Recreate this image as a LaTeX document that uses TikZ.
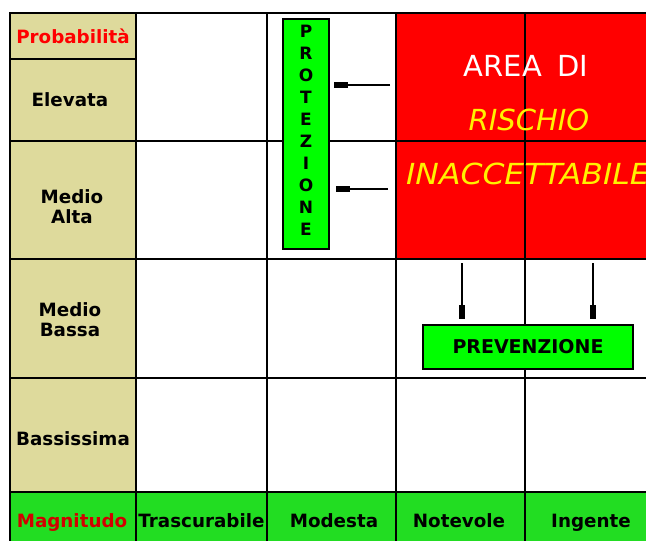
\documentclass[tikz,border=0pt]{standalone}
\usepackage{fontspec}
\usepackage{graphicx}
\setmainfont{DejaVu Sans}
\usetikzlibrary{arrows.meta}
\definecolor{khaki}{RGB}{222,218,156}
\definecolor{rowgreen}{RGB}{34,221,34}
\definecolor{boxgreen}{RGB}{0,255,0}
\definecolor{magred}{RGB}{210,0,0}
\begin{document}
\begin{tikzpicture}[x=1pt,y=-1pt,
  gridline/.style={line width=1.6pt,draw=black},
  lab/.style={font=\bfseries\fontsize{18.3}{20}\selectfont,align=center,inner sep=0pt},
  big/.style={font=\fontsize{29}{32}\selectfont,inner sep=0pt},
  gbox/.style={draw=black,line width=1.3pt,fill=boxgreen,inner sep=0pt},
  arr/.style={line width=1.4pt,-{Rectangle[length=14pt,width=6pt]}}]
\useasboundingbox (0,0) rectangle (646,541);
\fill[white] (0,0) rectangle (646,541);
% backgrounds
\fill[khaki] (10,13) rectangle (136,492);
\fill[red] (396,13) rectangle (646,259);
\fill[rowgreen] (10,492) rectangle (646,541);
% grid
\draw[gridline] (646,13) -- (10,13) -- (10,541);
\draw[gridline] (10,59) -- (136,59);
\foreach \y in {141,259,378,492} \draw[gridline] (10,\y) -- (646,\y);
\foreach \x in {136,267,396,525} \draw[gridline] (\x,13) -- (\x,541);
% left labels
\node[lab,anchor=base,text=red] (prob) at (73,43) {Probabilità};
\node[lab,anchor=base] (elev) at (70,106) {Elevata};
\node[lab] (malta) at (72,207) {Medio\\Alta};
\node[lab] (mbassa) at (70,320) {Medio\\Bassa};
\node[lab,anchor=base] (bassis) at (73,445) {Bassissima};
% bottom labels
\node[lab,anchor=base,text=magred] (magn) at (72,527) {Magnitudo};
\node[lab,anchor=base] (trasc) at (201.5,527) {Trascurabile};
\node[lab,anchor=base] (mod) at (334,527) {Modesta};
\node[lab,anchor=base] (notev) at (459,527) {Notevole};
\node[lab,anchor=base] (ingen) at (591,527) {Ingente};
% red area text
\node[big,anchor=base,text=white] (area) at (526,76) {AREA\hspace{0.2em} DI};
\node[big,anchor=base,text=yellow,font=\itshape\fontsize{29}{32}\selectfont] (risc) at (529,130) {RISCHIO};
\node[big,anchor=base west,text=yellow,font=\itshape\fontsize{29}{32}\selectfont] (inacc) at (406,184) {\scalebox{1.085}[1]{INACCETTABILE}};
% protezione
\node[gbox,minimum width=46pt,minimum height=230pt] (prot) at (306,134) {};
\node[font=\bfseries\fontsize{17}{22}\selectfont,align=center,inner sep=0pt] (protxt) at (306,130)
  {P\\R\\O\\T\\E\\Z\\I\\O\\N\\E};
% prevenzione
\node[gbox,minimum width=210pt,minimum height=44pt,font=\bfseries\fontsize{19}{22}\selectfont] (prev) at (528,347) {PREVENZIONE};
% arrows
\coordinate (h1) at (390,85);
\coordinate (h2) at (388,189);
\coordinate (v1) at (462,263);
\coordinate (v2) at (593,263);
\draw[arr,shorten >=4pt] (h1) -- (prot.east |- h1);
\draw[arr,shorten >=6pt] (h2) -- (prot.east |- h2);
\draw[arr,shorten >=5pt] (v1) -- (v1 |- prev.north);
\draw[arr,shorten >=5pt] (v2) -- (v2 |- prev.north);
\end{tikzpicture}
\end{document}
